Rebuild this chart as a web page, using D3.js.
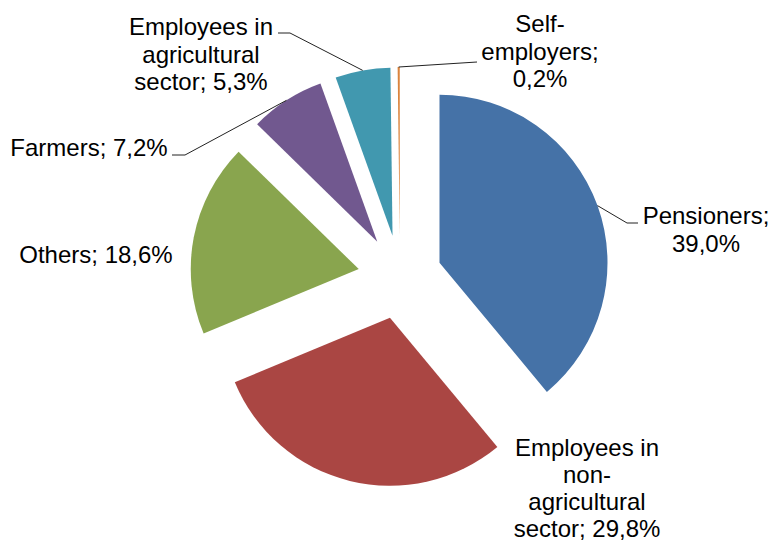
<!DOCTYPE html>
<html>
<head>
<meta charset="utf-8">
<script src="https://cdn.jsdelivr.net/npm/d3@7"></script>
<style>
  html, body { margin: 0; padding: 0; background: #fff; }
  svg { display: block; }
  text { font-family: "Liberation Sans", Arial, sans-serif; font-size: 24px; fill: #000; }
</style>
</head>
<body>
<div id="chart"></div>
<script>
// ---- data ----
const categories = ["Pensioners", "Employees in|non-|agricultural|sector", "Others", "Farmers", "Employees in|agricultural|sector", "Self-|employers"];
const values = [39.0, 29.8, 18.6, 7.2, 5.3, 0.2];
const colors = ["#4572A7", "#AA4643", "#89A54E", "#71588F", "#4198AF", "#DB843D"];

// ---- layout ----
const W = 772, H = 544;
const cx = 400, cy = 277, R = 168, explode = 42;
const labelLayout = [
  { x: 706, y: 224, valueBreak: true,  leader: [[627, 223], [638, 223]] },
  { x: 587, y: 456, valueBreak: false, leader: null, lh: 27 },
  { x: 96,  y: 263, valueBreak: false, leader: null },
  { x: 89,  y: 156, valueBreak: false, leader: [[185, 155], [172, 155]] },
  { x: 201, y: 35,  valueBreak: false, leader: [[290, 33], [278, 33]] },
  { x: 540, y: 32,  valueBreak: true,  leader: [[477, 62]] }
];
const lineH = 27.5;

const svg = d3.select("#chart").append("svg").attr("width", W).attr("height", H);
const g = svg.append("g").attr("transform", `translate(${cx},${cy})`);

const pie = d3.pie().sort(null).value(d => d.v).startAngle(0).endAngle(2 * Math.PI);
const arcs = pie(values.map((v, i) => ({ v, i })));
const arc = d3.arc().innerRadius(0).outerRadius(R);

const dir = a => [Math.sin(a), -Math.cos(a)];

g.selectAll("path.slice").data(arcs).join("path")
  .attr("class", "slice")
  .attr("d", arc)
  .attr("fill", d => colors[d.data.i])
  .attr("transform", d => {
    const m = (d.startAngle + d.endAngle) / 2;
    const [dx, dy] = dir(m);
    return `translate(${dx * explode},${dy * explode})`;
  });

const fmt = v => d3.format(".1f")(v).replace(".", ",") + "%";

arcs.forEach((d, k) => {
  const L = labelLayout[k];
  const m = (d.startAngle + d.endAngle) / 2;
  const [dx, dy] = dir(m);
  if (L.leader) {
    const start = [cx + dx * (explode + R), cy + dy * (explode + R)];
    const pts = [start].concat(L.leader);
    svg.append("path")
      .attr("d", d3.line()(pts))
      .attr("fill", "none")
      .attr("stroke", "#222")
      .attr("stroke-width", 1);
  }
  const name = categories[d.data.i];
  const txt = name + ";" + (L.valueBreak ? "|" : " ") + fmt(values[d.data.i]);
  const lines = txt.split("|");
  const lh = L.lh || lineH;
  const t = svg.append("text").attr("text-anchor", "middle");
  lines.forEach((ln, j) => {
    t.append("tspan").attr("x", L.x).attr("y", L.y + j * lh).text(ln);
  });
});
</script>
</body>
</html>
